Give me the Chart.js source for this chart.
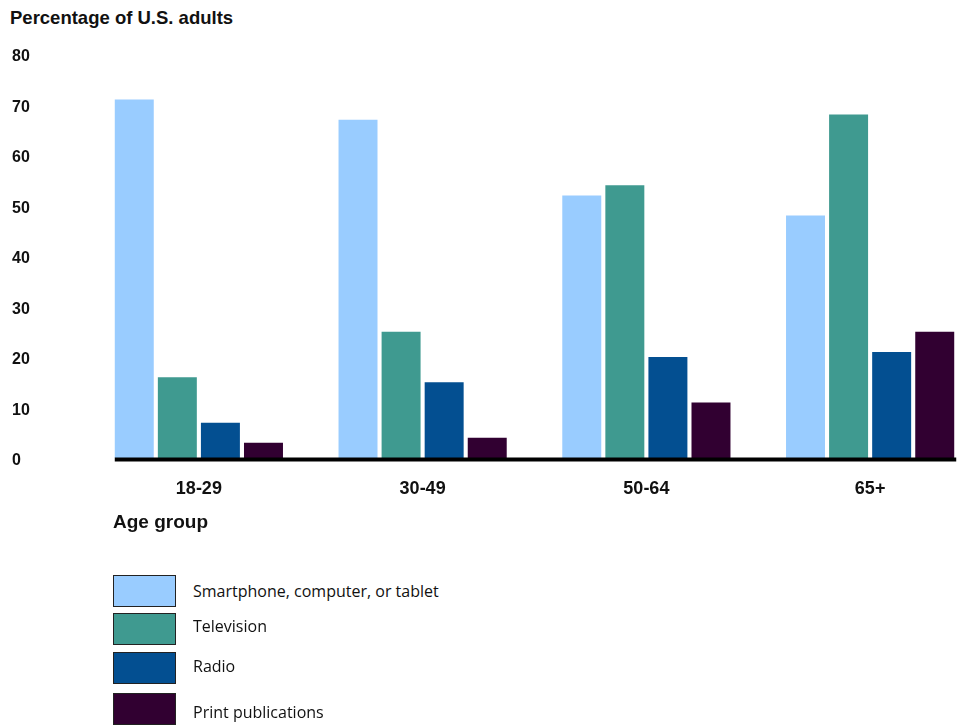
<!DOCTYPE html>
<html>
<head>
<meta charset="utf-8">
<script src="https://cdn.jsdelivr.net/npm/chart.js@4.4.1/dist/chart.umd.min.js"></script>
<style>
  html, body { margin: 0; padding: 0; background: #fff; overflow: hidden; }
  body { width: 967px; height: 725px; position: relative; }
  #wrap { position: absolute; left: 0; top: 0; width: 995px; height: 540px; }
  .ttl { position: absolute; font-family: "Liberation Sans", Arial, sans-serif; font-weight: bold; color: #111; white-space: nowrap; }
  #ytitle { left: 10px; top: 7px; font-size: 18.5px; }
  #xtitle { left: 113px; top: 511px; font-size: 19px; }
  .leg { position: absolute; left: 113px; font-family: "Open Sans", "Noto Sans", sans-serif; font-size: 16px; color: #111; }
  .leg .box { position: absolute; left: 0; width: 61px; height: 30px; border: 1px solid #222; }
  .leg .lbl { position: absolute; left: 80px; white-space: nowrap; }
</style>
</head>
<body>
<div id="ytitle" class="ttl">Percentage of U.S. adults</div>
<div id="wrap"><canvas id="chart"></canvas></div>
<div id="xtitle" class="ttl">Age group</div>
<div id="legend"></div>

<script>
  /* ── Data ─────────────────────────────────────────────────────────── */
  const AGE_GROUPS = ['18-29', '30-49', '50-64', '65+'];
  const SERIES     = ['Smartphone, computer, or tablet', 'Television', 'Radio', 'Print publications'];
  const COLORS     = ['#99ccff', '#3f9a90', '#034f91', '#310031'];
  const SMARTPHONE = [71, 67, 52, 48];
  const TELEVISION = [16, 25, 54, 68];
  const RADIO      = [7, 15, 20, 21];
  const PRINT      = [3, 4, 11, 25];
  const Y_TICKS    = [0, 10, 20, 30, 40, 50, 60, 70, 80];

  const VALUES = [SMARTPHONE, TELEVISION, RADIO, PRINT];

  /* ── Legend rows (HTML) ───────────────────────────────────────────── */
  const LEGEND_TOPS = [575, 613, 652, 693];
  const LABEL_TOPS  = [580, 615, 655, 701];
  const legend = document.getElementById('legend');
  SERIES.forEach((name, i) => {
    const row = document.createElement('div');
    row.className = 'leg';
    row.style.top = '0px';
    row.innerHTML =
      `<div class="box" style="top:${LEGEND_TOPS[i]}px;background:${COLORS[i]}"></div>` +
      `<div class="lbl" style="top:${LABEL_TOPS[i]}px">${name}</div>`;
    legend.appendChild(row);
  });

  /* ── Axis line under the bars ─────────────────────────────────────── */
  const baseLine = {
    id: 'baseLine',
    afterDatasetsDraw(chart) {
      const first = chart.getDatasetMeta(0).data[0];
      const lastMeta = chart.getDatasetMeta(SERIES.length - 1);
      const last = lastMeta.data[lastMeta.data.length - 1];
      const x0 = first.x - first.width / 2;
      const x1 = last.x + last.width / 2 + 2;
      const y = chart.scales.y.getPixelForValue(0) + 1.5;
      const ctx = chart.ctx;
      ctx.save();
      ctx.strokeStyle = '#000';
      ctx.lineWidth = 4;
      ctx.beginPath();
      ctx.moveTo(x0, y);
      ctx.lineTo(x1, y);
      ctx.stroke();
      ctx.restore();
    }
  };

  new Chart(document.getElementById('chart'), {
    type: 'bar',
    data: {
      labels: AGE_GROUPS,
      datasets: SERIES.map((name, i) => ({
        label: name,
        data: VALUES[i],
        backgroundColor: COLORS[i],
        borderWidth: 0,
        categoryPercentage: 0.77,
        barPercentage: 0.905,
      })),
    },
    options: {
      responsive: true,
      maintainAspectRatio: false,
      animation: false,
      layout: { padding: { left: 12, right: 13, top: 54, bottom: 22 } },
      plugins: {
        legend: { display: false },
        tooltip: { enabled: false },
      },
      scales: {
        x: {
          grid: { display: false, drawTicks: false },
          border: { display: false },
          ticks: {
            color: '#111',
            padding: 20,
            font: { family: 'Liberation Sans', size: 18, weight: 'bold' },
          },
          afterFit(scale) { scale.height = 60; },
        },
        y: {
          min: 0,
          max: 80,
          afterBuildTicks(scale) { scale.ticks = Y_TICKS.map(v => ({ value: v })); },
          grid: { display: false, drawTicks: false },
          border: { display: false },
          ticks: {
            crossAlign: 'far',
            labelOffset: 3,
            color: '#111',
            font: { family: 'Liberation Sans', size: 16, weight: 'bold' },
          },
          afterFit(scale) { scale.width = 75; },
        },
      },
    },
    plugins: [baseLine],
  });
</script>
</body>
</html>
